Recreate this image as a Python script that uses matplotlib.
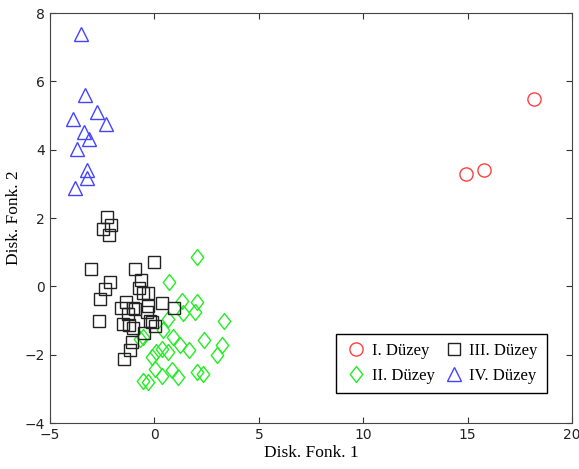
import matplotlib.pyplot as plt
from matplotlib.path import Path

# group I
x1 = [14.9, 15.8, 18.2]
y1 = [3.30, 3.40, 5.50]

# group II
x2 = [2.05, 0.71, 1.31, 2.05, 1.36, 1.94, 0.67, 3.33, 0.43, 0.91, 2.39, -0.69,
      -0.53, 1.23, 1.66, 3.22, 3.01, 0.35, 0.67, 0.08, -0.13, 0.03, 0.35, 0.83,
      1.14, 2.03, 2.34, -0.56, -0.32]
y2 = [0.85, 0.14, -0.42, -0.45, -0.78, -0.74, -0.94, -1.00, -1.27, -1.49, -1.56,
      -1.54, -1.49, -1.73, -1.85, -1.73, -2.02, -1.83, -1.93, -1.93, -2.08, -2.42,
      -2.61, -2.46, -2.66, -2.51, -2.56, -2.76, -2.81]

# group III
x3 = [-2.27, -2.09, -2.48, -2.16, -3.02, -0.93, -0.02, -0.66, -2.13, -2.35,
      -0.74, -2.61, -0.55, -0.29, -1.36, 0.36, -0.29, -1.62, -1.01, -0.93, 0.92,
      -1.25, -0.37, -0.21, -0.13, -2.67, -1.49, -1.22, -1.01, 0.03, -0.48, -1.09,
      -1.17, -1.46]
y3 = [2.02, 1.80, 1.67, 1.50, 0.52, 0.52, 0.72, 0.20, 0.12, -0.08, -0.06, -0.37,
      -0.20, -0.20, -0.45, -0.48, -0.56, -0.64, -0.64, -0.66, -0.64, -0.81, -0.76,
      -1.00, -1.05, -1.00, -1.10, -1.13, -1.23, -1.15, -1.37, -1.62, -1.86, -2.13]

# group IV
x4 = [-3.52, -3.33, -2.77, -3.88, -2.31, -3.35, -3.11, -3.70, -3.21, -3.22, -3.81]
y4 = [7.38, 5.59, 5.11, 4.91, 4.75, 4.52, 4.31, 4.01, 3.40, 3.17, 2.89]

serif = 'Liberation Serif'

# diamond a bit wider than matplotlib's thin diamond
diamond = Path([(0, 1), (0.78, 0), (0, -1), (-0.78, 0), (0, 1)],
               [Path.MOVETO, Path.LINETO, Path.LINETO, Path.LINETO, Path.CLOSEPOLY])

fig = plt.figure(figsize=(5.79, 4.69), dpi=100)
ax = fig.add_axes([0.0864, 0.098, 0.9016, 0.874])

ax.plot(x1, y1, 'o', ms=9.5, mfc='none', mec='#ff4040', mew=1.0, label='I. Düzey')
ax.plot(x2, y2, marker=diamond, ls='none', ms=11.5, mfc='none', mec='#22ee22',
        mew=1.0, label='II. Düzey')
ax.plot(x3, y3, 's', ms=8, mfc='none', mec='#222222', mew=1.0, label='III. Düzey')
ax.plot(x4, y4, '^', ms=10, mfc='none', mec='#4444ff', mew=1.0, label='IV. Düzey')

ax.set_xlim(-5, 20)
ax.set_ylim(-4, 8)
ax.set_xticks([-5, 0, 5, 10, 15, 20])
ax.set_yticks([-4, -2, 0, 2, 4, 6, 8])
ax.tick_params(direction='in', top=True, right=True, length=4, labelsize=10,
               colors='#333333', labelcolor='#222222')
for s in ax.spines.values():
    s.set_color('#444444')

ax.set_xlabel('Disk. Fonk. 1', family=serif, fontsize=12.5, labelpad=2)
ax.set_ylabel('Disk. Fonk. 2', family=serif, fontsize=12.5, labelpad=2)

leg = ax.legend(ncol=2, loc='lower right', bbox_to_anchor=(0.968, 0.052),
                prop={'family': serif, 'size': 12}, fancybox=False,
                edgecolor='black', framealpha=1, handletextpad=0.3,
                columnspacing=0.5, borderpad=0.55, handlelength=1.3,
                labelspacing=0.55)
leg.get_frame().set_linewidth(1.0)

fig.savefig('out.png', dpi=100)
